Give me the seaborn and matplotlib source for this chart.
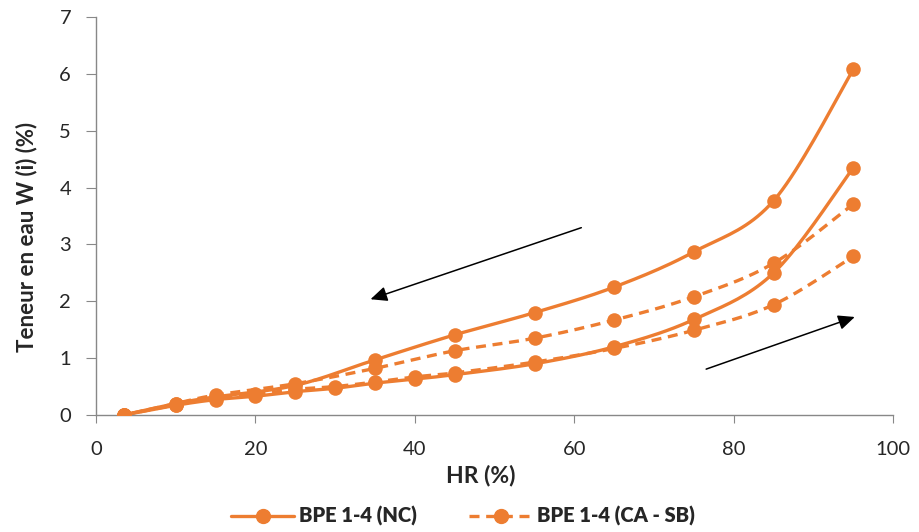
import numpy as np
import pandas as pd
import matplotlib
matplotlib.use("Agg")
import matplotlib.pyplot as plt
import seaborn as sns

# Relative humidity steps
hr_ads = [3.5, 10, 15, 20, 25, 30, 35, 40, 45, 55, 65, 75, 85, 95]
hr_des = [95, 85, 75, 65, 55, 45, 35, 25, 15, 10, 3.5]

# Water content W (%) - BPE 1-4 (NC)
nc_ads = [0, 0.17, 0.27, 0.33, 0.41, 0.47, 0.56, 0.63, 0.71, 0.90, 1.20, 1.68, 2.50, 4.35]
nc_des = [6.08, 3.77, 2.87, 2.25, 1.80, 1.41, 0.97, 0.52, 0.32, 0.20, 0]

# Water content W (%) - BPE 1-4 (CA - SB)
ca_ads = [0, 0.18, 0.30, 0.36, 0.45, 0.50, 0.58, 0.67, 0.74, 0.93, 1.17, 1.49, 1.94, 2.79]
ca_des = [3.71, 2.67, 2.08, 1.67, 1.35, 1.13, 0.82, 0.55, 0.35, 0.20, 0]

labels = ["BPE 1-4 (NC)", "BPE 1-4 (CA - SB)"]
orange = "#ED7D31"


def smooth(x, y, n=20):
    # Catmull-Rom curve through the points (like Excel's smoothed line)
    x = np.asarray(x, float)
    y = np.asarray(y, float)
    px = np.concatenate([[x[0]], x, [x[-1]]])
    py = np.concatenate([[y[0]], y, [y[-1]]])
    xs, ys = [], []
    t = np.linspace(0, 1, n, endpoint=False)
    for i in range(1, len(px) - 2):
        for p, out in ((px, xs), (py, ys)):
            p0, p1, p2, p3 = p[i - 1], p[i], p[i + 1], p[i + 2]
            out.extend(0.5 * ((2 * p1) + (-p0 + p2) * t
                              + (2 * p0 - 5 * p1 + 4 * p2 - p3) * t ** 2
                              + (-p0 + 3 * p1 - 3 * p2 + p3) * t ** 3))
    xs.append(x[-1])
    ys.append(y[-1])
    return np.array(xs), np.array(ys)


sns.set_style("white")
plt.rcParams["font.family"] = ["Lato", "DejaVu Sans"]

fig = plt.figure(figsize=(9.19, 5.32), dpi=100)
ax = fig.add_axes([0.1045, 0.22, 0.8675, 0.748])

series = [
    (labels[0], nc_ads, nc_des, "-"),
    (labels[1], ca_ads, ca_des, (0, (3, 2))),
]

handles = []
for name, ads, des, ls in series:
    for xv, yv in ((hr_ads, ads), (hr_des, des)):
        sx, sy = smooth(xv, yv)
        curve = pd.DataFrame({"HR": sx, "W": sy})
        sns.lineplot(data=curve, x="HR", y="W", sort=False, ax=ax, color=orange,
                     linewidth=2.4, linestyle=ls, estimator=None, legend=False)
        pts = pd.DataFrame({"HR": xv, "W": yv})
        sns.scatterplot(data=pts, x="HR", y="W", ax=ax, color=orange, s=110,
                        linewidth=0, zorder=3, legend=False)
    h, = ax.plot([], [], color=orange, linewidth=2.4, linestyle=ls,
                 marker="o", markersize=10, label=name)
    handles.append(h)

# direction arrows (desorption / adsorption)
ax.annotate("", xy=(34.1, 2.02), xytext=(61.2, 3.31),
            arrowprops=dict(arrowstyle="-|>,head_length=1.0,head_width=0.45",
                            color="black", lw=1.1))
ax.annotate("", xy=(95.5, 1.74), xytext=(76.2, 0.79),
            arrowprops=dict(arrowstyle="-|>,head_length=1.0,head_width=0.45",
                            color="black", lw=1.1))

ax.set_xlim(0, 100)
ax.set_ylim(0, 7)
ax.set_xticks(range(0, 101, 20))
ax.set_yticks(range(0, 8))
ax.set_xlabel("HR (%)", fontsize=16.5, fontweight="bold")
ax.set_ylabel("Teneur en eau W (i) (%)", fontsize=16, fontweight="bold")
ax.xaxis.set_label_coords(0.483, -0.126)
ax.yaxis.set_label_coords(-0.073, 0.447)
ax.tick_params(axis="both", labelsize=14.5, color="#888888",
               direction="out", bottom=True, left=True)
ax.tick_params(axis="x", length=6, pad=13)
ax.tick_params(axis="y", length=7, pad=11)
sns.despine(ax=ax)
for sp in ("left", "bottom"):
    ax.spines[sp].set_color("#888888")
    ax.spines[sp].set_linewidth(1.0)

fig.legend(handles=handles, labels=labels, loc="center", ncol=2,
           bbox_to_anchor=(0.504, 0.03), frameon=False, handlelength=3.1,
           handletextpad=0.26, columnspacing=2.6,
           prop=dict(family="Lato", size=14.5, weight="heavy"))

fig.savefig("out.png", dpi=100)
